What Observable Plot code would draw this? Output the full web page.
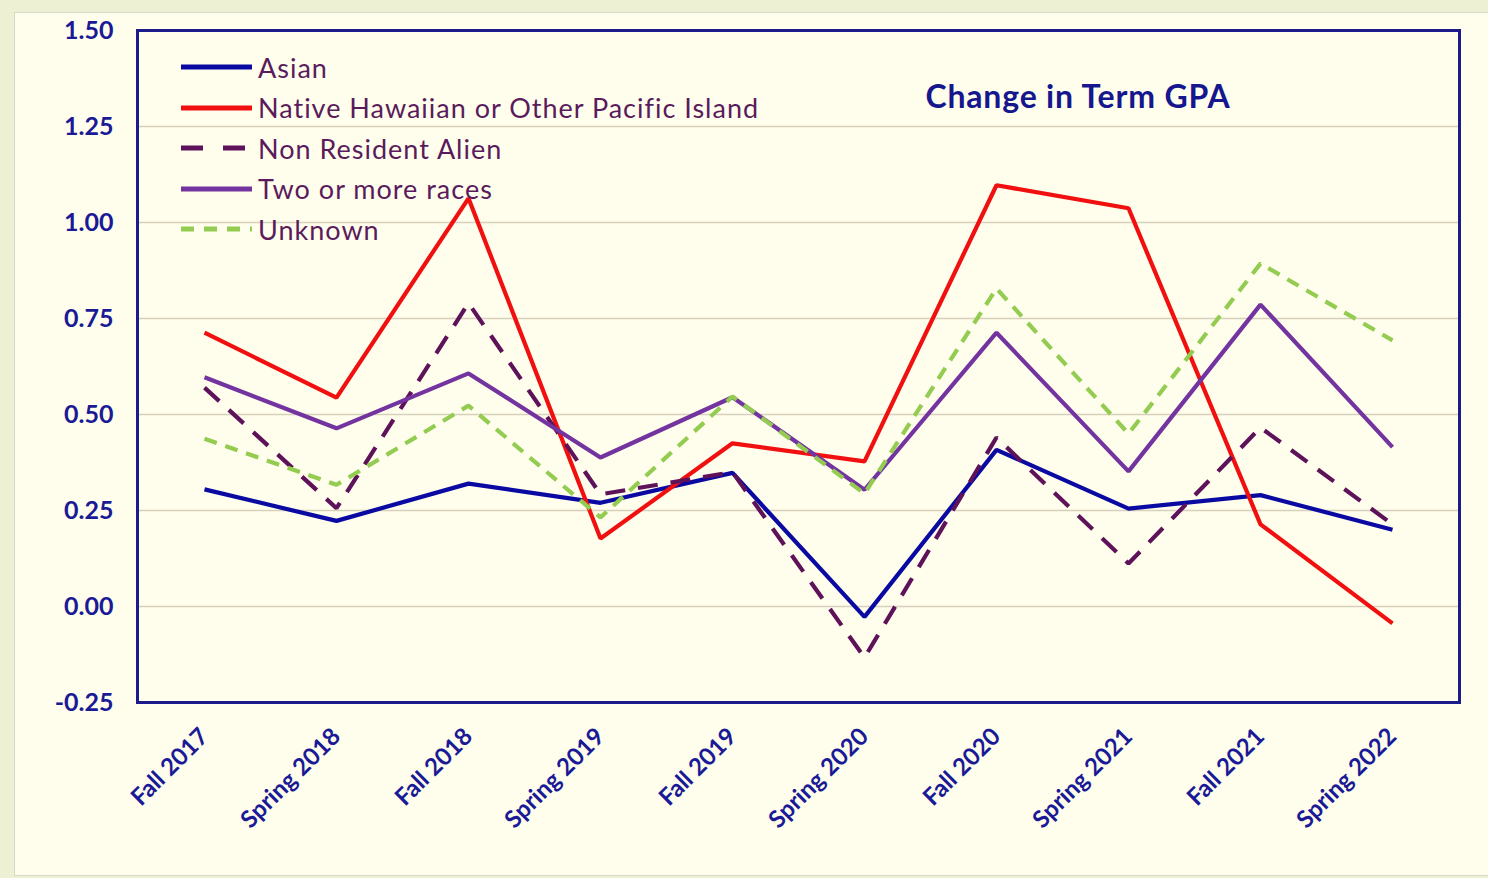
<!DOCTYPE html>
<html>
<head>
<meta charset="utf-8">
<script src="https://cdn.jsdelivr.net/npm/d3@7"></script>
<script src="https://cdn.jsdelivr.net/npm/@observablehq/plot@0.6"></script>
<style>
  html, body { margin: 0; padding: 0; width: 1488px; height: 878px; overflow: hidden; background: #EEF0D3; }
  #panel { position: absolute; left: 14px; top: 12px; width: 1500px; height: 862px; background: #FFFEEC; border: 1.5px solid #D9D9C9; }
  #chart { position: absolute; left: 0; top: 0; }
  #title { position: absolute; left: 878px; top: 76px; width: 400px; text-align: center; font-family: Lato, "Open Sans", sans-serif; font-weight: 700; font-size: 32px; letter-spacing: 0.8px; color: #16168E; white-space: nowrap; }
  #legend { position: absolute; left: 181px; top: 47px; font-family: Lato, "Open Sans", sans-serif; font-size: 27px; letter-spacing: 1px; color: #5A1B5C; }
  .row { display: flex; align-items: center; height: 40.5px; white-space: nowrap; }
  .row svg { margin-right: 6px; }
</style>
</head>
<body>
<div id="panel"></div>
<div id="chart"></div>
<div id="title">Change in Term GPA</div>
<div id="legend"></div>
<script>
const terms = ["Fall 2017", "Spring 2018", "Fall 2018", "Spring 2019", "Fall 2019", "Spring 2020", "Fall 2020", "Spring 2021", "Fall 2021", "Spring 2022"];
const seriesNames = ["Asian", "Native Hawaiian or Other Pacific Island", "Non Resident Alien", "Two or more races", "Unknown"];
const asian    = [0.305, 0.223, 0.320, 0.270, 0.348, -0.027, 0.408, 0.255, 0.290, 0.200];
const nhpi     = [0.713, 0.544, 1.063, 0.177, 0.425, 0.378, 1.097, 1.037, 0.214, -0.044];
const nra      = [0.570, 0.256, 0.790, 0.292, 0.350, -0.133, 0.440, 0.112, 0.466, 0.214];
const twoMore  = [0.597, 0.464, 0.607, 0.388, 0.545, 0.304, 0.713, 0.352, 0.786, 0.415];
const unknown  = [0.437, 0.317, 0.523, 0.232, 0.547, 0.294, 0.828, 0.450, 0.893, 0.693];
const yTicks = [-0.25, 0, 0.25, 0.5, 0.75, 1.0, 1.25, 1.5];

const seriesValues = [asian, nhpi, nra, twoMore, unknown];
const colors = ["#0A0AA3", "#F01010", "#5E1259", "#7434A0", "#93CC50"];
const dashes = [null, null, "20,13", null, "13,9"];
const legendDashes = [null, null, "22,20", null, "13,10"];

const rows = seriesNames.map((name, i) => terms.map((t, j) => ({series: name, term: t, value: seriesValues[i][j]})));

const navy = "#1A1A96";
const lineMarks = rows.map((data, i) => Plot.line(data, {
  x: "term", y: "value",
  stroke: colors[i], strokeWidth: 4.2,
  strokeDasharray: dashes[i] || undefined,
  strokeLinejoin: "miter", strokeLinecap: "butt"
}));

const chart = Plot.plot({
  width: 1488, height: 878,
  marginLeft: 137, marginRight: 29, marginTop: 30, marginBottom: 176,
  style: {background: "transparent", overflow: "visible"},
  x: {type: "point", domain: terms, padding: 0.5, label: null},
  y: {domain: [-0.25, 1.5], label: null},
  marks: [
    Plot.gridY(yTicks, {stroke: "#D6D1BD", strokeOpacity: 1, strokeWidth: 1.6}),
    Plot.axisY(yTicks, {tickSize: 0, tickPadding: 24, tickFormat: d => d.toFixed(2), fontSize: 25, fontWeight: "bold", fill: navy, fontFamily: "Lato, 'Open Sans', sans-serif", style: {letterSpacing: "1px"}, label: null}),
    Plot.axisX({tickSize: 0, tickRotate: -45, tickPadding: 30, fontSize: 24, fontWeight: "bold", fill: navy, fontFamily: "Lato, 'Open Sans', sans-serif", style: {letterSpacing: "1px"}, label: null}),
    ...lineMarks,
    Plot.frame({stroke: "#1B1B8C", strokeWidth: 3})
  ]
});
document.getElementById("chart").appendChild(chart);

const legend = document.getElementById("legend");
seriesNames.forEach((name, i) => {
  const row = document.createElement("div");
  row.className = "row";
  const dash = legendDashes[i] ? ` stroke-dasharray="${legendDashes[i]}"` : "";
  row.innerHTML = `<svg width="71" height="10"><line x1="0" y1="5" x2="71" y2="5" stroke="${colors[i]}" stroke-width="5"${dash} stroke-linecap="butt"/></svg><span>${name}</span>`;
  legend.appendChild(row);
});
</script>
</body>
</html>
